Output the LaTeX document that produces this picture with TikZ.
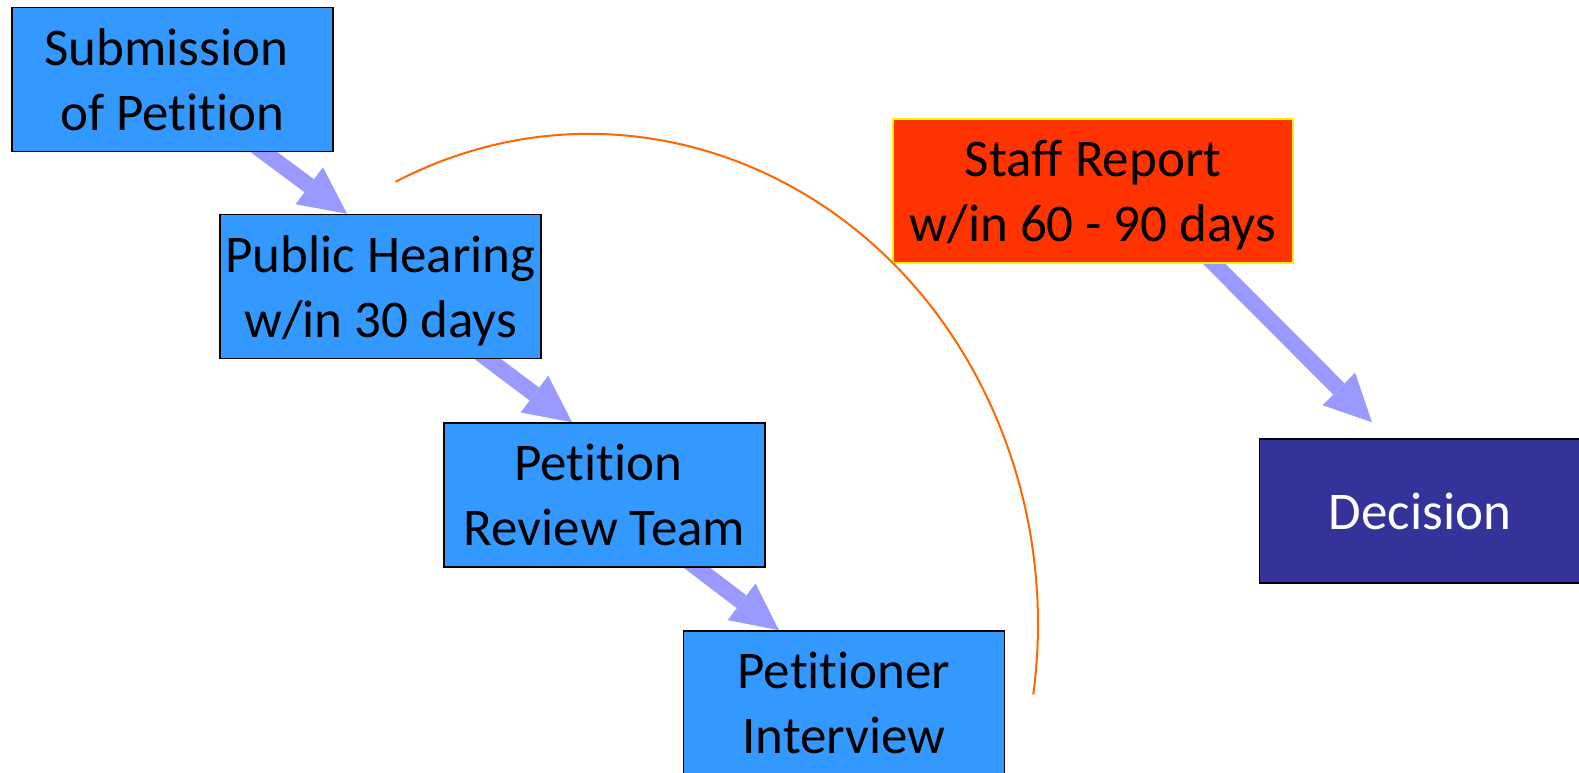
\documentclass[tikz,border=0pt]{standalone}
\usepackage{fontspec}
\setmainfont{Carlito}[RawFeature={-liga;-clig;-calt;-dlig}]
\usetikzlibrary{arrows.meta, backgrounds}
\definecolor{stepblue}{HTML}{3399FF}
\definecolor{flowblue}{HTML}{9999FF}
\definecolor{staffred}{HTML}{FF3300}
\definecolor{decisionblue}{HTML}{333399}
\definecolor{spanorange}{HTML}{FF6600}
\tikzset{
  x=1pt, y=1pt, % one unit is one pixel of the slide
  box/.style={draw=black, line width=1.5pt, fill=stepblue, minimum width=321pt,
    minimum height=144pt, inner sep=0pt, align=center, text depth=0pt,
    font=\fontsize{53}{64.5}\selectfont}, % the blue process steps
  staffbox/.style={box, draw=yellow, line width=1.2pt, fill=staffred, minimum width=400pt},
  decisionbox/.style={box, fill=decisionblue, text=white},
  flow/.style={draw=flowblue, line width=16pt,
    -{Triangle[width=46pt, length=47pt, line width=0pt]}}, % the thick arrows
  span/.style={draw=spanorange, line width=2pt}, % the bracket over the steps
}
\begin{document}
\begin{tikzpicture}
  \useasboundingbox (0,0) rectangle (1579,-773);

  \node[box] (sub) at (172.5,-79.5) {Submission\hspace*{0.23em}\\of Petition};
  \node[box] (hear) at (380.5,-286.5) {Public Hearing\\w/in 30 days};
  \node[box] (rev) at (604.5,-495) {Petition\hspace*{0.23em}\\Review Team};
  \node[box] (intv) at (844,-703) {Petitioner\\Interview};
  \node[staffbox] (staff) at (1093,-191) {Staff Report\\w/in 60 - 90 days};
  \node[decisionbox] (dec) at (1420,-511) {Decision};

  % arrows start under the boxes
  \begin{scope}[on background layer]
    \draw[flow] ([shift={(83.5,6)}]sub.south) -- ([xshift=-33.5]hear.north);
    \draw[flow] ([shift={(99.5,6)}]hear.south) -- ([xshift=-32.5]rev.north);
    \draw[flow] ([shift={(84.5,6)}]rev.south) -- ([xshift=-65]intv.north);
    \draw[flow] ([shift={(114,7)}]staff.south) -- ([shift={(-48,16)}]dec.north);
  \end{scope}

  \coordinate (spanstart) at (395.7,-181.7);
  \draw[span] (spanstart) arc[start angle=115.5, end angle=-8.3, x radius=449, y radius=490];
\end{tikzpicture}
\end{document}
